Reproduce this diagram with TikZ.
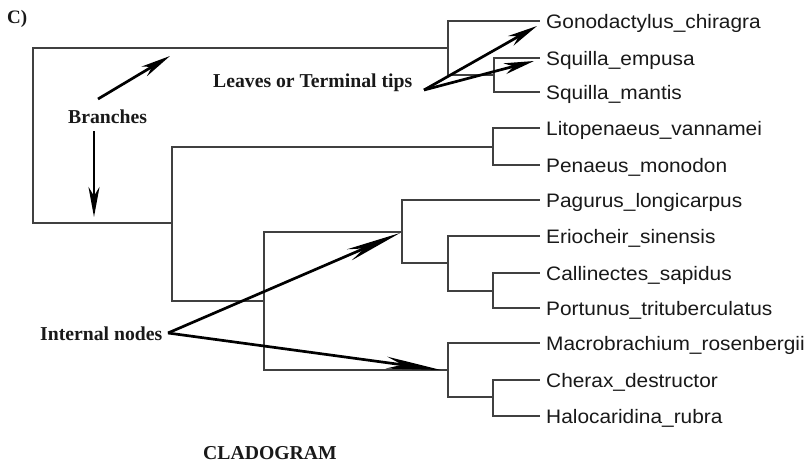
\documentclass[tikz,border=0pt]{standalone}
\usepackage{fontspec}
\setmainfont{Liberation Serif}
\newfontfamily\leaffont[FakeStretch=1.07]{Liberation Sans}
\usetikzlibrary{arrows.meta}
\begin{document}
\begin{tikzpicture}[x=1pt,y=-1pt,
  tree/.style={draw=black!75, line width=1.5pt},
  leaf/.style={anchor=west, inner xsep=6.5pt, inner ysep=0pt, text height=14pt, text depth=0pt,
    font=\leaffont\fontsize{19.5}{22}\selectfont, text=black!90},
  note/.style={anchor=base west, inner sep=0pt, font=\bfseries\fontsize{19.7}{22}\selectfont, text=black!90},
  shortarrow/.style={draw=black, line width=2.7pt, -{Stealth[length=30pt,width=11pt,inset=9pt]}},
  longarrow/.style={draw=black, line width=2.7pt, -{Stealth[length=55pt,width=12pt,inset=16pt]}}
]
\useasboundingbox[fill=white] (0,0) rectangle (807,464);

% leaves
\node[leaf] (L1)  at (539.5,21)  {Gonodactylus\_chiragra};
\node[leaf] (L2)  at (539.5,58)  {Squilla\_empusa};
\node[leaf] (L3)  at (539.5,92)  {Squilla\_mantis};
\node[leaf] (L4)  at (539.5,128) {Litopenaeus\_vannamei};
\node[leaf] (L5)  at (539.5,165) {Penaeus\_monodon};
\node[leaf] (L6)  at (539.5,200) {Pagurus\_longicarpus};
\node[leaf] (L7)  at (539.5,236) {Eriocheir\_sinensis};
\node[leaf] (L8)  at (539.5,273) {Callinectes\_sapidus};
\node[leaf] (L9)  at (539.5,308) {Portunus\_trituberculatus};
\node[leaf] (L10) at (539.5,343) {Macrobrachium\_rosenbergii};
\node[leaf] (L11) at (539.5,380) {Cherax\_destructor};
\node[leaf] (L12) at (539.5,416) {Halocaridina\_rubra};

% internal nodes
\coordinate (rt)  at (33,48);
\coordinate (rb)  at (33,223);
\coordinate (n1)  at (448,48);
\coordinate (n2)  at (494,75);
\coordinate (n3)  at (172,223);
\coordinate (n4)  at (493,147);
\coordinate (n5)  at (264,301);
\coordinate (n6)  at (402,232);
\coordinate (n7)  at (448,263);
\coordinate (n8)  at (493,291);
\coordinate (n9)  at (448,370);
\coordinate (n10) at (493,397);

% tree
\draw[tree] (n1) -- (rt) -- (rb) -- (n3);
\draw[tree] (L1.west) -| (n1) |- (n2);
\draw[tree] (L2.west) -| (n2) |- (L3.west);
\draw[tree] (n4) -| (n3) |- (n5);
\draw[tree] (L4.west) -| (n4) |- (L5.west);
\draw[tree] (n6) -| (n5) |- (n9);
\draw[tree] (L6.west) -| (n6) |- (n7);
\draw[tree] (L7.west) -| (n7) |- (n8);
\draw[tree] (L8.west) -| (n8) |- (L9.west);
\draw[tree] (L10.west) -| (n9) |- (n10);
\draw[tree] (L11.west) -| (n10) |- (L12.west);

% annotations
\node[note, font=\bfseries\fontsize{19}{21}\selectfont] (lbl) at (7,23) {C)};
\node[note] (br) at (68,123) {Branches};
\node[note] (lv) at (213,87) {Leaves or Terminal tips};
\node[note] (in) at (40,340) {Internal nodes};
\node[note] (cg) at (203,459) {CLADOGRAM};

\coordinate (b1s) at (98,99);   \coordinate (b1t) at (170,56);
\coordinate (b2s) at (94,131);  \coordinate (b2t) at (94,217);
\coordinate (lvs) at (424,90);
\coordinate (lt1) at (537,26);  \coordinate (lt2) at (534,61);
\coordinate (ins) at (168,333);
\coordinate (it1) at (400,233); \coordinate (it2) at (441,370);

\draw[shortarrow] (b1s) -- (b1t);
\draw[shortarrow] (b2s) -- (b2t);
\draw[shortarrow] (lvs) -- (lt1);
\draw[shortarrow] (lvs) -- (lt2);
\draw[longarrow] (ins) -- (it1);
\draw[longarrow] (ins) -- (it2);
\end{tikzpicture}
\end{document}
